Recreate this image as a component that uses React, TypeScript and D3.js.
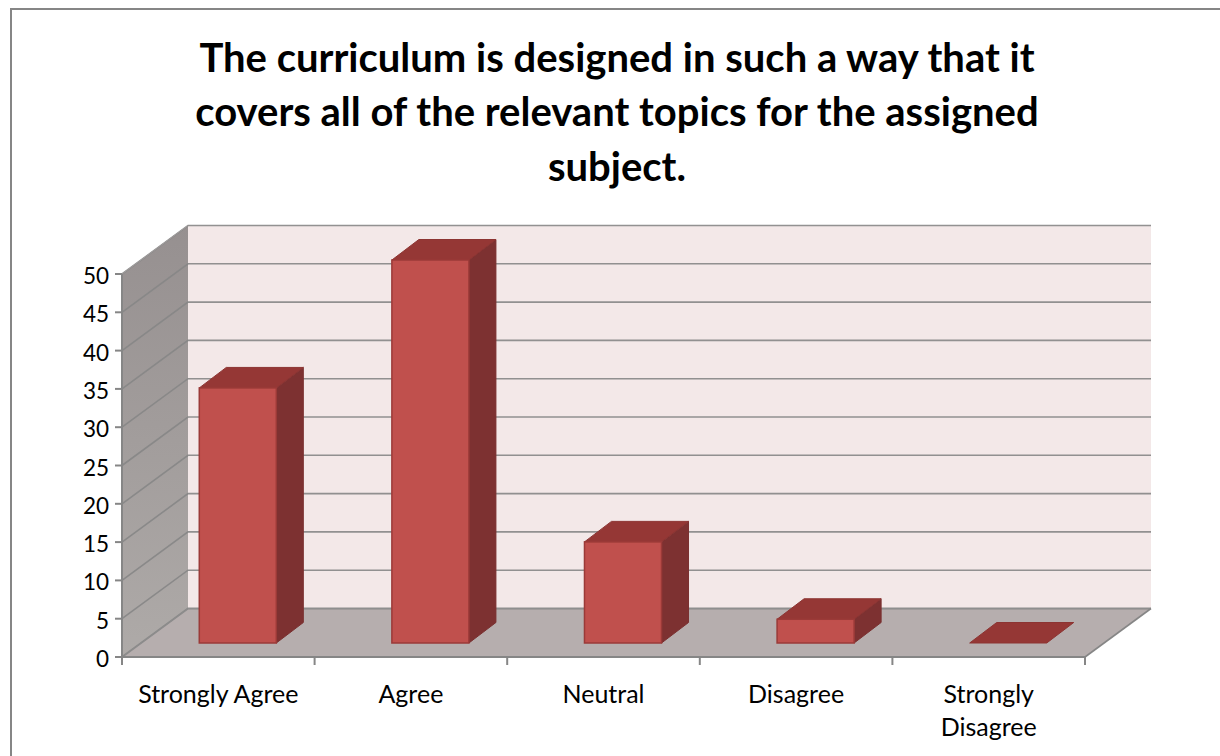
import React from "react";
import * as d3 from "d3";

const titleLines = [
  "The curriculum is designed in such a way that it",
  "covers all of the relevant topics for the assigned",
  "subject.",
];
const categories = ["Strongly Agree", "Agree", "Neutral", "Disagree", "Strongly Disagree"];
const categoryLines = [["Strongly Agree"], ["Agree"], ["Neutral"], ["Disagree"], ["Strongly", "Disagree"]];
const values = [33.3, 50, 13.2, 3.1, 0];
const yTicks = [0, 5, 10, 15, 20, 25, 30, 35, 40, 45, 50];

const FONT = "Lato, 'Open Sans', sans-serif";
const DX = 66;
const DY = -48.5;
const BDX = 27;
const BDY = -20.5;
const X0 = 122;
const X1 = 1085;
const Y0 = 657;
const Y50 = 274;
const BAR_BASE = 643;

const x = d3.scaleBand<string>().domain(categories).range([X0, X1]).paddingInner(0.6).paddingOuter(0.3);
const xEdge = d3.scaleBand<string>().domain(categories).range([X0, X1]);
const y = d3.scaleLinear().domain([0, 50]).range([Y0, Y50]);
const h = d3.scaleLinear().domain([0, 50]).range([0, Y0 - Y50]);
const pts = (p: [number, number][]) => d3.line()(p)! + "Z";

export default function App() {
  const axisGrey = "#868686";
  const barOffset = 19.5;
  return (
    <svg width={1220} height={756} style={{ position: "absolute", left: 0, top: 0, background: "#fff" }}>
      <defs>
        <linearGradient id="side" x1="0" y1="0" x2="0" y2="1">
          <stop offset="0" stopColor="#969090" />
          <stop offset="1" stopColor="#aeaaa8" />
        </linearGradient>
      </defs>
      <path d="M11,756V9H1220" fill="none" stroke="#868686" strokeWidth={2} />

      {titleLines.map((t, i) => (
        <text key={i} x={617} y={71.5 + i * 54.5} textAnchor="middle" fontFamily={FONT} fontWeight={700} fontSize={40} fill="#000">
          {t}
        </text>
      ))}

      {/* back wall */}
      <rect x={X0 + DX} y={y(50) + DY} width={X1 - X0} height={Y0 - Y50} fill="#f3e8e8" />
      {/* side wall */}
      <path
        d={pts([[X0, y(0)], [X0 + DX, y(0) + DY], [X0 + DX, y(50) + DY], [X0, y(50)]])}
        fill="url(#side)"
      />
      {/* floor */}
      <path
        d={pts([[X0, y(0)], [X0 + DX, y(0) + DY], [X1 + DX, y(0) + DY], [X1, y(0)]])}
        fill="#b6aeae"
      />
      {/* gridlines */}
      {yTicks.map((t) => (
        <path
          key={t}
          d={`M${X0},${y(t)}L${X0 + DX},${y(t) + DY}L${X1 + DX},${y(t) + DY}`}
          fill="none"
          stroke={axisGrey}
          strokeWidth={t === 0 ? 2 : 1.6}
          opacity={0.9}
        />
      ))}
      {/* floor right edge and axes */}
      <path d={`M${X1},${Y0}L${X1 + DX},${Y0 + DY}`} stroke={axisGrey} strokeWidth={1.6} fill="none" />
      <path d={`M${X0},${Y50}L${X0 + DX},${Y50 + DY}`} stroke="#a09c9c" strokeWidth={1} fill="none" />
      <path d={`M${X0},${Y50}V${Y0}H${X1}`} fill="none" stroke={axisGrey} strokeWidth={2} />
      {yTicks.map((t) => (
        <line key={t} x1={X0 - 7} x2={X0} y1={y(t)} y2={y(t)} stroke={axisGrey} strokeWidth={2} />
      ))}
      {yTicks.map((t) => (
        <text key={t} x={X0 - 13} y={y(t) + 10} textAnchor="end" fontFamily={FONT} fontSize={22.5} fill="#000">
          {t}
        </text>
      ))}
      {categories.map((c) => (
        <line key={c} x1={xEdge(c)!} x2={xEdge(c)!} y1={Y0} y2={Y0 + 8} stroke={axisGrey} strokeWidth={2} />
      ))}
      <line x1={X1} x2={X1} y1={Y0} y2={Y0 + 8} stroke={axisGrey} strokeWidth={2} />

      {/* bars */}
      {categories.map((c, i) => {
        const bw = x.bandwidth();
        const l = x(c)! + barOffset;
        const r = l + bw;
        const top = BAR_BASE - h(values[i]);
        return (
          <g key={c}>
            {values[i] > 0 && (
              <path
                d={pts([[r, top], [r + BDX, top + BDY], [r + BDX, BAR_BASE + BDY], [r, BAR_BASE]])}
                fill="#7d3131"
                stroke="#7a3030"
                strokeWidth={1}
              />
            )}
            <path
              d={pts([[l, top], [l + BDX, top + BDY], [r + BDX, top + BDY], [r, top]])}
              fill="#953735"
              stroke="#8c3432"
              strokeWidth={1}
            />
            {values[i] > 0 && (
              <rect x={l} y={top} width={bw} height={h(values[i])} fill="#c0504d" stroke="#9b3a38" strokeWidth={1.5} />
            )}
          </g>
        );
      })}

      {/* category labels */}
      {categories.map((c, i) =>
        categoryLines[i].map((line, k) => (
          <text
            key={line}
            x={xEdge(c)! + xEdge.bandwidth() / 2}
            y={703 + k * 33}
            textAnchor="middle"
            fontFamily={FONT}
            fontSize={25}
            fill="#000"
          >
            {line}
          </text>
        ))
      )}
    </svg>
  );
}
